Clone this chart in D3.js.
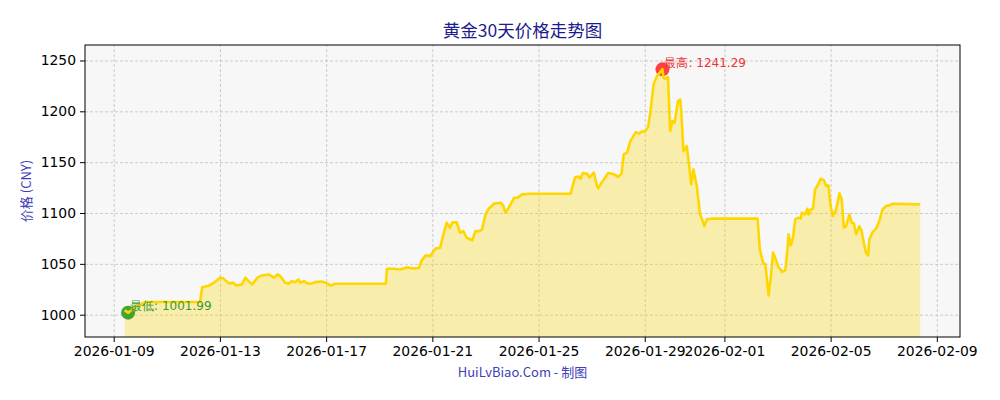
<!DOCTYPE html>
<html>
<head>
<meta charset="utf-8">
<script src="https://cdn.jsdelivr.net/npm/d3@7"></script>
<style>
  body { margin: 0; background: #ffffff; }
  #chart svg { display: block; }
</style>
</head>
<body>
<div id="chart"></div>
<script>
const times = [
  "2026-01-09 10:00", "2026-01-09 13:00", "2026-01-09 20:00", "2026-01-10 05:00", "2026-01-12 06:00",
  "2026-01-12 08:00", "2026-01-12 14:00", "2026-01-12 18:00", "2026-01-13 00:00", "2026-01-13 03:00",
  "2026-01-13 08:00", "2026-01-13 12:00", "2026-01-13 15:00", "2026-01-13 20:00", "2026-01-13 23:00",
  "2026-01-14 02:00", "2026-01-14 05:00", "2026-01-14 10:00", "2026-01-14 14:00", "2026-01-14 20:00",
  "2026-01-15 01:00", "2026-01-15 04:00", "2026-01-15 07:00", "2026-01-15 11:00", "2026-01-15 14:00",
  "2026-01-15 17:00", "2026-01-15 20:00", "2026-01-15 23:00", "2026-01-16 01:00", "2026-01-16 04:00",
  "2026-01-16 07:00", "2026-01-16 11:00", "2026-01-16 14:00", "2026-01-16 20:00", "2026-01-17 01:00",
  "2026-01-17 04:00", "2026-01-17 08:00", "2026-01-19 06:00", "2026-01-19 07:00", "2026-01-19 13:00",
  "2026-01-19 19:00", "2026-01-20 01:00", "2026-01-20 07:00", "2026-01-20 12:00", "2026-01-20 14:00",
  "2026-01-20 18:00", "2026-01-20 22:00", "2026-01-21 03:00", "2026-01-21 07:00", "2026-01-21 10:00",
  "2026-01-21 13:00", "2026-01-21 16:00", "2026-01-21 18:00", "2026-01-21 22:00", "2026-01-22 01:00",
  "2026-01-22 04:00", "2026-01-22 07:00", "2026-01-22 12:00", "2026-01-22 15:00", "2026-01-22 18:00",
  "2026-01-22 21:00", "2026-01-23 00:00", "2026-01-23 03:00", "2026-01-23 08:00", "2026-01-23 14:00",
  "2026-01-23 16:00", "2026-01-23 18:00", "2026-01-23 21:00", "2026-01-24 02:00", "2026-01-24 05:00",
  "2026-01-24 09:00", "2026-01-24 17:00", "2026-01-26 05:00", "2026-01-26 09:00", "2026-01-26 12:00",
  "2026-01-26 14:00", "2026-01-26 16:00", "2026-01-26 20:00", "2026-01-26 22:00", "2026-01-27 02:00",
  "2026-01-27 05:00", "2026-01-27 06:00", "2026-01-27 09:00", "2026-01-27 12:00", "2026-01-27 15:00",
  "2026-01-27 20:00", "2026-01-28 00:00", "2026-01-28 03:00", "2026-01-28 05:00", "2026-01-28 08:00",
  "2026-01-28 11:00", "2026-01-28 16:00", "2026-01-28 19:00", "2026-01-28 21:00", "2026-01-29 00:00",
  "2026-01-29 03:00", "2026-01-29 05:00", "2026-01-29 08:00", "2026-01-29 11:00", "2026-01-29 16:00",
  "2026-01-29 17:00", "2026-01-29 19:00", "2026-01-29 21:00", "2026-01-29 23:00", "2026-01-30 01:00",
  "2026-01-30 03:00", "2026-01-30 06:00", "2026-01-30 08:00", "2026-01-30 09:00", "2026-01-30 11:00",
  "2026-01-30 14:00", "2026-01-30 16:00", "2026-01-30 18:00", "2026-01-30 20:00", "2026-01-30 23:00",
  "2026-01-31 02:00", "2026-01-31 03:00", "2026-01-31 06:00", "2026-01-31 08:00", "2026-01-31 13:00",
  "2026-02-02 06:00", "2026-02-02 08:00", "2026-02-02 11:00", "2026-02-02 13:00", "2026-02-02 16:00",
  "2026-02-02 18:00", "2026-02-02 20:00", "2026-02-02 22:00", "2026-02-03 01:00", "2026-02-03 03:00",
  "2026-02-03 04:00", "2026-02-03 07:00", "2026-02-03 09:00", "2026-02-03 10:00", "2026-02-03 12:00",
  "2026-02-03 14:00", "2026-02-03 16:00", "2026-02-03 19:00", "2026-02-03 21:00", "2026-02-03 22:00",
  "2026-02-04 01:00", "2026-02-04 03:00", "2026-02-04 04:00", "2026-02-04 06:00", "2026-02-04 08:00",
  "2026-02-04 10:00", "2026-02-04 12:00", "2026-02-04 15:00", "2026-02-04 18:00", "2026-02-04 20:00",
  "2026-02-04 22:00", "2026-02-05 00:00", "2026-02-05 02:00", "2026-02-05 05:00", "2026-02-05 08:00",
  "2026-02-05 10:00", "2026-02-05 12:00", "2026-02-05 14:00", "2026-02-05 17:00", "2026-02-05 19:00",
  "2026-02-05 21:00", "2026-02-05 23:00", "2026-02-06 02:00", "2026-02-06 04:00", "2026-02-06 06:00",
  "2026-02-06 08:00", "2026-02-06 10:00", "2026-02-06 11:00", "2026-02-06 14:00", "2026-02-06 17:00",
  "2026-02-06 20:00", "2026-02-06 23:00", "2026-02-07 02:00", "2026-02-07 05:00", "2026-02-07 08:00",
  "2026-02-08 09:00"
];

const prices = [
  1004.5, 1001.99, 1008.0, 1012.5, 1012.5,
  1027.0, 1028.5, 1031.0, 1036.4, 1035.7,
  1030.8, 1031.5, 1028.8, 1029.8, 1036.4,
  1033.0, 1029.8, 1036.4, 1038.6, 1039.6,
  1036.5, 1039.6, 1037.4, 1031.5, 1030.5,
  1033.0, 1032.0, 1034.5, 1031.5, 1033.0,
  1030.8, 1030.5, 1032.0, 1032.7, 1030.8,
  1028.5, 1030.5, 1030.5, 1045.2, 1045.2,
  1044.5, 1046.5, 1045.5, 1046.0, 1052.7,
  1058.3, 1057.6, 1065.1, 1065.8, 1078.9,
  1090.5, 1085.5, 1090.5, 1091.0, 1080.6,
  1082.2, 1075.7, 1073.0, 1082.2, 1082.0,
  1083.9, 1098.6, 1104.2, 1109.4, 1110.1,
  1107.5, 1100.3, 1105.2, 1115.0, 1115.0,
  1118.3, 1119.0, 1119.0, 1135.0, 1136.0,
  1133.7, 1139.3, 1138.5, 1134.7, 1139.6,
  1126.0, 1124.2, 1129.8, 1134.5, 1139.3,
  1138.3, 1135.5, 1138.7, 1157.6, 1159.3,
  1170.7, 1179.5, 1178.0, 1180.0, 1180.0,
  1184.5, 1198.7, 1226.5, 1234.6, 1241.29,
  1232.8, 1232.0, 1233.6, 1180.6, 1190.4,
  1188.8, 1210.0, 1211.7, 1200.2, 1160.9,
  1165.8, 1147.8, 1128.1, 1142.9, 1126.5,
  1098.6, 1096.0, 1087.1, 1093.7, 1094.5,
  1094.5, 1064.2, 1051.1, 1049.5, 1019.0,
  1038.0, 1061.0, 1056.0, 1046.2, 1044.5,
  1041.9, 1043.5, 1064.2, 1079.0, 1068.1,
  1075.7, 1093.7, 1095.4, 1094.5, 1100.3,
  1098.6, 1104.2, 1098.6, 1103.5, 1104.2,
  1123.2, 1126.5, 1133.7, 1132.0, 1126.5,
  1127.2, 1106.8, 1097.0, 1103.5, 1119.3,
  1113.4, 1085.5, 1087.1, 1098.6, 1090.5,
  1089.8, 1079.0, 1087.1, 1082.2, 1070.8,
  1061.0, 1058.3, 1074.0, 1081.2, 1084.6,
  1092.0, 1103.5, 1106.8, 1107.5, 1109.1,
  1108.5
];

const xTickLabels = ["2026-01-09", "2026-01-13", "2026-01-17", "2026-01-21", "2026-01-25",
                     "2026-01-29", "2026-02-01", "2026-02-05", "2026-02-09"];
const yTickValues = [1000, 1050, 1100, 1150, 1200, 1250];

// Chart dimensions
const margin = { top: 45, right: 40, bottom: 63, left: 85 };
const width = 1000 - margin.left - margin.right;
const height = 400 - margin.top - margin.bottom;

const parseTime = d3.timeParse("%Y-%m-%d %H:%M");
const parseDay = d3.timeParse("%Y-%m-%d");
const data = times.map((t, i) => ({ date: parseTime(t), price: prices[i] }));

const svg = d3
    .select("#chart")
    .append("svg")
    .attr("width", 1000)
    .attr("height", 400)
    .style("font-family", "DejaVu Sans, sans-serif");

const g = svg.append("g").attr("transform", `translate(${margin.left},${margin.top})`);

// x domain padded 5% each side, y domain padded 10% of range
const [t0, t1] = d3.extent(data, (d) => d.date);
const pad = (t1 - t0) * 0.05;
const xScale = d3
    .scaleTime()
    .domain([new Date(+t0 - pad), new Date(+t1 + pad)])
    .range([0, width]);

const pMin = d3.min(data, (d) => d.price);
const pMax = d3.max(data, (d) => d.price);
const yPad = (pMax - pMin) * 0.1;
const yScale = d3
    .scaleLinear()
    .domain([pMin - yPad, pMax + yPad])
    .range([height, 0]);

// Plot background
g.append("rect")
    .attr("width", width)
    .attr("height", height)
    .attr("fill", "#f7f7f7");

const xTicks = xTickLabels.map(parseDay);

// Grid lines
g.append("g")
    .attr("class", "grid")
    .attr("transform", `translate(0, ${height})`)
    .call(d3.axisBottom(xScale).tickValues(xTicks).tickSize(-height).tickFormat(""))
    .call((s) => s.select(".domain").remove());

g.append("g")
    .attr("class", "grid")
    .call(d3.axisLeft(yScale).tickValues(yTickValues).tickSize(-width).tickFormat(""))
    .call((s) => s.select(".domain").remove());

g.selectAll(".grid line")
    .attr("stroke", "#b8b8b8")
    .attr("stroke-width", 0.7)
    .attr("stroke-dasharray", "3,2");

// Area fill
const area = d3
    .area()
    .x((d) => xScale(d.date))
    .y0(height)
    .y1((d) => yScale(d.price));

g.append("path")
    .datum(data)
    .attr("d", area)
    .attr("fill", "#ffd700")
    .attr("fill-opacity", 0.3);

// High / low markers
const hi = data.find((d) => d.price === pMax);
const lo = data.find((d) => d.price === pMin);

g.append("circle")
    .attr("cx", xScale(hi.date))
    .attr("cy", yScale(hi.price))
    .attr("r", 7)
    .attr("fill", "#ff2020")
    .attr("fill-opacity", 0.85);

g.append("circle")
    .attr("cx", xScale(lo.date))
    .attr("cy", yScale(lo.price))
    .attr("r", 7)
    .attr("fill", "#2e9a22")
    .attr("fill-opacity", 0.9);

// Price line
const line = d3
    .line()
    .x((d) => xScale(d.date))
    .y((d) => yScale(d.price));

g.append("path")
    .datum(data)
    .attr("d", line)
    .attr("fill", "none")
    .attr("stroke", "#ffd700")
    .attr("stroke-width", 2.6)
    .attr("stroke-linejoin", "round");

// Annotations
g.append("text")
    .attr("x", xScale(hi.date) + 2)
    .attr("y", yScale(hi.price) - 6)
    .attr("dominant-baseline", "middle")
    .attr("fill", "#ee3333")
    .style("font-size", "12px")
    .text(`最高: ${hi.price.toFixed(2)}`);

g.append("text")
    .attr("x", xScale(lo.date) + 2)
    .attr("y", yScale(lo.price) - 6)
    .attr("dominant-baseline", "middle")
    .attr("fill", "#3a9a2a")
    .style("font-size", "12px")
    .text(`最低: ${lo.price.toFixed(2)}`);

// Axes
const xAxis = g.append("g")
    .attr("transform", `translate(0, ${height})`)
    .call(d3.axisBottom(xScale).tickValues(xTicks).tickFormat(d3.timeFormat("%Y-%m-%d")).tickSize(5).tickPadding(4));

const yAxis = g.append("g")
    .call(d3.axisLeft(yScale).tickValues(yTickValues).tickFormat(d3.format("d")).tickSize(5).tickPadding(4));

[xAxis, yAxis].forEach((a) => {
    a.select(".domain").remove();
    a.selectAll("text").attr("fill", "#000").style("font-size", "13.9px").style("font-family", "DejaVu Sans");
    a.selectAll("line").attr("stroke", "#000").attr("stroke-width", 1);
});

// Frame
g.append("rect")
    .attr("width", width)
    .attr("height", height)
    .attr("fill", "none")
    .attr("stroke", "#000")
    .attr("stroke-width", 1);

// Titles
svg.append("text")
    .attr("x", margin.left + width / 2)
    .attr("y", 37)
    .attr("text-anchor", "middle")
    .attr("fill", "#1c1c8c")
    .style("font-family", "Noto Sans CJK SC")
    .style("font-size", "17.5px")
    .text("黄金30天价格走势图");

svg.append("text")
    .attr("transform", `translate(31, ${margin.top + height / 2}) rotate(-90)`)
    .attr("text-anchor", "middle")
    .attr("fill", "#3f3fb5")
    .style("font-family", "Noto Sans CJK SC")
    .style("font-size", "13px")
    .text("价格 (CNY)");

svg.append("text")
    .attr("x", margin.left + width / 2)
    .attr("y", 377)
    .attr("text-anchor", "middle")
    .attr("fill", "#4040b8")
    .style("font-family", "Noto Sans CJK SC")
    .style("font-size", "13px")
    .text("HuiLvBiao.Com - 制图");
</script>
</body>
</html>
